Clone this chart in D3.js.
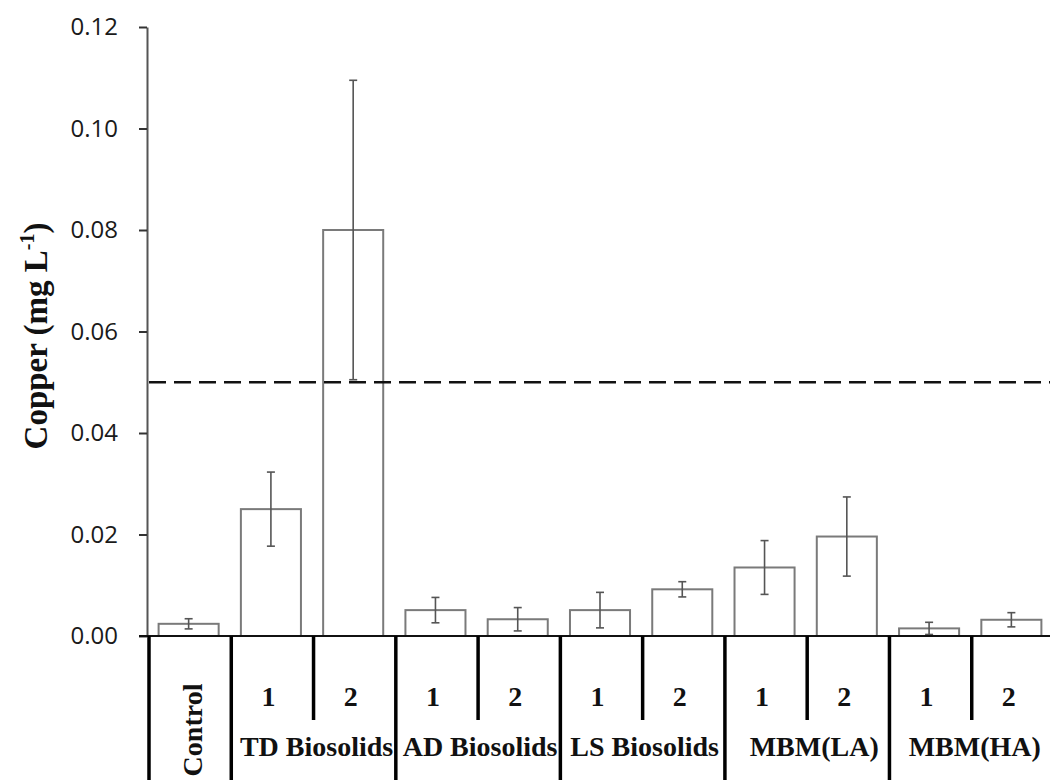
<!DOCTYPE html>
<html>
<head>
<meta charset="utf-8">
<script src="https://cdn.jsdelivr.net/npm/d3@7"></script>
<style>
  html, body { margin: 0; padding: 0; background: #fff; }
  svg { display: block; }
</style>
</head>
<body>
<svg id="chart" width="1050" height="780"></svg>
<script>
// ---- data ----
const categories = ["Control", "TD Biosolids 1", "TD Biosolids 2", "AD Biosolids 1", "AD Biosolids 2",
  "LS Biosolids 1", "LS Biosolids 2", "MBM(LA) 1", "MBM(LA) 2", "MBM(HA) 1", "MBM(HA) 2"];
const subLabels = ["", "1", "2", "1", "2", "1", "2", "1", "2", "1", "2"];
const groups = ["Control", "TD Biosolids", "AD Biosolids", "LS Biosolids", "MBM(LA)", "MBM(HA)"];
const groupSizes = [1, 2, 2, 2, 2, 2];
const means = [0.0024, 0.0250, 0.0800, 0.0051, 0.0033, 0.0051, 0.0092, 0.0135, 0.0196, 0.0015, 0.0032];
const errors = [0.0010, 0.0073, 0.0295, 0.0025, 0.0023, 0.0035, 0.0015, 0.0053, 0.0078, 0.0012, 0.0014];
const yTicks = [0, 0.02, 0.04, 0.06, 0.08, 0.10, 0.12];
const threshold = 0.05;

// ---- layout ----
const svg = d3.select("#chart");
const x0 = 149, x1 = 1054, yTop = 27, yBase = 636, axisX = 147;
const y = d3.scaleLinear().domain([0, 0.12]).range([yBase, yTop]);
const x = d3.scaleBand().domain(categories).range([x0, x1]).padding(0);
const bw = x.bandwidth();
const barW = bw * 0.73;
const cx = c => x(c) + bw / 2 - 1.5;

// bars
svg.append("g").selectAll("rect").data(categories).join("rect")
  .attr("x", c => cx(c) - barW / 2)
  .attr("y", (c, i) => y(means[i]))
  .attr("width", barW)
  .attr("height", (c, i) => yBase - y(means[i]))
  .attr("fill", "#fff")
  .attr("stroke", "#7a7a7a")
  .attr("stroke-width", 2);

// error bars
const eb = svg.append("g").attr("stroke", "#555").attr("stroke-width", 1.6);
categories.forEach((c, i) => {
  const xc = cx(c);
  const hi = y(means[i] + errors[i]), lo = y(Math.max(0, means[i] - errors[i]));
  eb.append("line").attr("x1", xc).attr("x2", xc).attr("y1", hi).attr("y2", lo);
  eb.append("line").attr("x1", xc - 4).attr("x2", xc + 4).attr("y1", hi).attr("y2", hi);
  eb.append("line").attr("x1", xc - 4).attr("x2", xc + 4).attr("y1", lo).attr("y2", lo);
});

// threshold dashed line
svg.append("line")
  .attr("x1", axisX + 2).attr("x2", 1050)
  .attr("y1", y(threshold)).attr("y2", y(threshold))
  .attr("stroke", "#111").attr("stroke-width", 2.5)
  .attr("stroke-dasharray", "17,8");

// y axis
const yAxis = svg.append("g")
  .attr("transform", `translate(${axisX},0)`)
  .call(d3.axisLeft(y).tickValues(yTicks).tickFormat(d3.format(".2f"))
    .tickSize(8).tickSizeOuter(0).tickPadding(21));
yAxis.select(".domain").attr("stroke", "#555").attr("stroke-width", 2);
yAxis.selectAll(".tick line").attr("stroke", "#333").attr("stroke-width", 2);
yAxis.selectAll(".tick text")
  .attr("font-family", "'Open Sans', sans-serif")
  .attr("font-size", 24)
  .attr("fill", "#1a1a1a");

// x axis baseline
svg.append("line")
  .attr("x1", axisX - 8).attr("x2", 1050)
  .attr("y1", yBase).attr("y2", yBase)
  .attr("stroke", "#111").attr("stroke-width", 2);

// category separators
const sep = svg.append("g").attr("stroke", "#000").attr("stroke-width", 3.5);
let idx = 0;
groups.forEach((g, gi) => {
  const start = x(categories[idx]);
  sep.append("line").attr("x1", start).attr("x2", start).attr("y1", yBase).attr("y2", 780);
  for (let k = 1; k < groupSizes[gi]; k++) {
    const xs = x(categories[idx + k]);
    sep.append("line").attr("x1", xs).attr("x2", xs).attr("y1", yBase).attr("y2", 720);
  }
  idx += groupSizes[gi];
});

// category labels
const serif = "'Liberation Serif', 'Times New Roman', serif";
const lbl = svg.append("g").attr("font-family", serif).attr("font-weight", "bold")
  .attr("font-size", 28).attr("fill", "#111");
categories.forEach((c, i) => {
  if (subLabels[i]) {
    lbl.append("text").attr("x", x(c) + bw / 2 - 4).attr("y", 706)
      .attr("text-anchor", "middle").text(subLabels[i]);
  }
});
const groupShift = [0, 3, 2, 2, 7, 3];
idx = 0;
groups.forEach((g, gi) => {
  const start = x(categories[idx]);
  const end = start + bw * groupSizes[gi];
  if (groupSizes[gi] === 1) {
    lbl.append("text")
      .attr("transform", `translate(${(start + end) / 2 + 12},730) rotate(-90)`)
      .attr("text-anchor", "middle").text(g);
  } else {
    lbl.append("text").attr("x", (start + end) / 2 + groupShift[gi]).attr("y", 756)
      .attr("text-anchor", "middle").text(g);
  }
  idx += groupSizes[gi];
});

// y axis title
const title = svg.append("text")
  .attr("transform", "translate(47,336) rotate(-90)")
  .attr("text-anchor", "middle")
  .attr("font-family", serif).attr("font-weight", "bold")
  .attr("font-size", 33).attr("fill", "#111");
title.append("tspan").text("Copper (mg L");
title.append("tspan").attr("font-size", 20).attr("dy", -13).text("-1");
title.append("tspan").attr("dy", 13).text(")");
</script>
</body>
</html>
